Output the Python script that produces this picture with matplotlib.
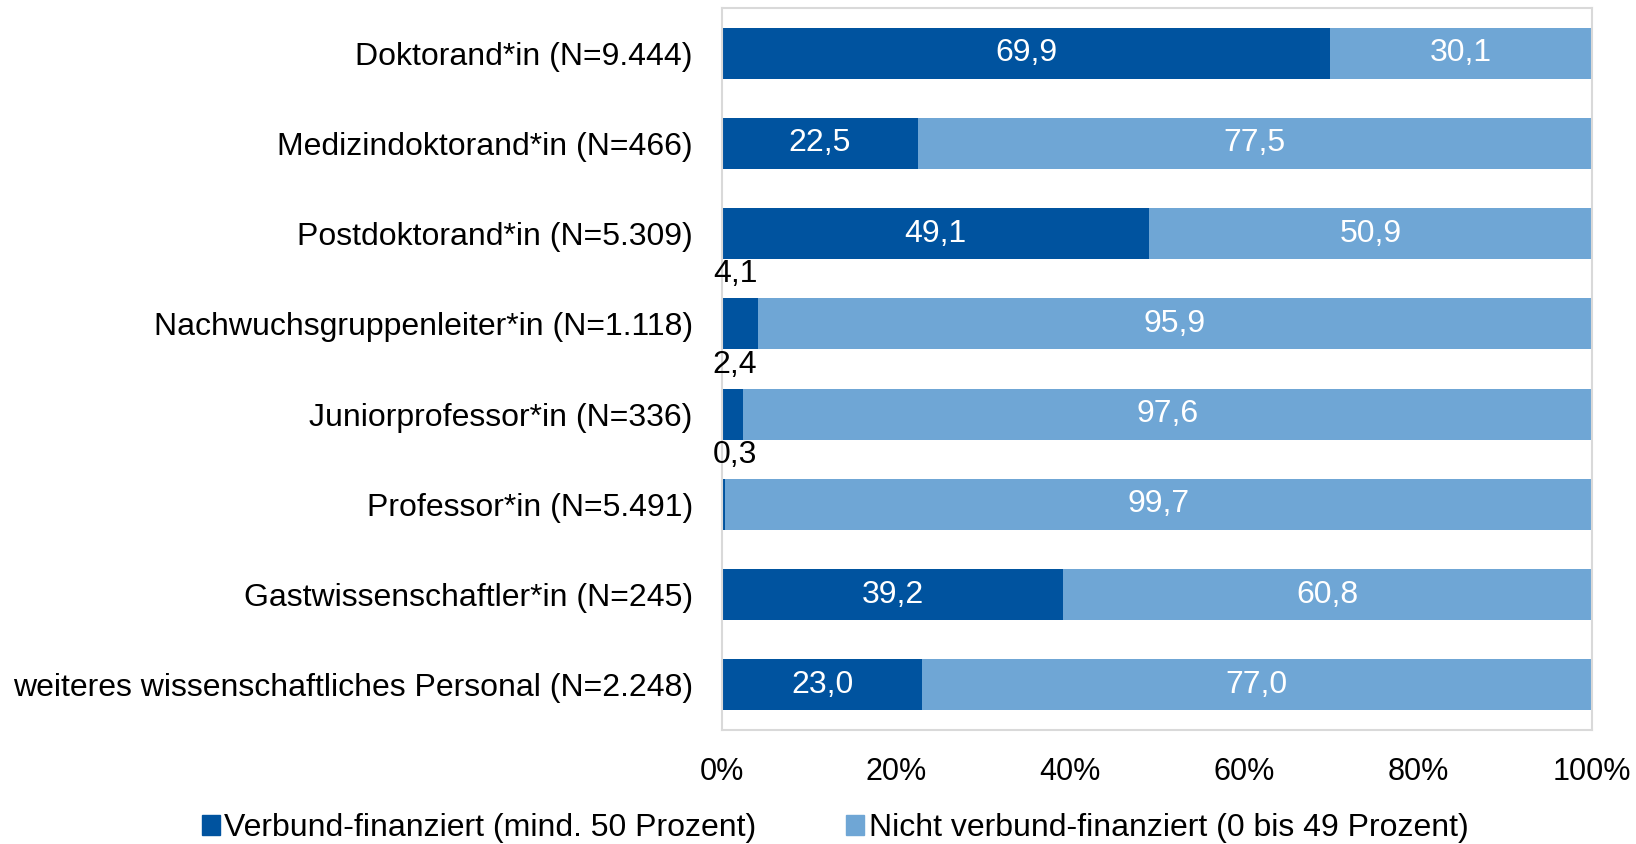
import numpy as np
import matplotlib
matplotlib.use("Agg")
from matplotlib import pyplot as plt
from matplotlib.patches import Patch

categories = [
    "Doktorand*in (N=9.444)",
    "Medizindoktorand*in (N=466)",
    "Postdoktorand*in (N=5.309)",
    "Nachwuchsgruppenleiter*in (N=1.118)",
    "Juniorprofessor*in (N=336)",
    "Professor*in (N=5.491)",
    "Gastwissenschaftler*in (N=245)",
    "weiteres wissenschaftliches Personal (N=2.248)",
]
verbund = [69.9, 22.5, 49.1, 4.1, 2.4, 0.3, 39.2, 23.0]
nicht_verbund = [30.1, 77.5, 50.9, 95.9, 97.6, 99.7, 60.8, 77.0]
series_names = ["Verbund-finanziert (mind. 50 Prozent)",
                "Nicht verbund-finanziert (0 bis 49 Prozent)"]
x_ticks = [0, 20, 40, 60, 80, 100]

DARK = "#00539F"
LIGHT = "#6FA6D5"
FONT = ["Liberation Sans", "DejaVu Sans"]

fig = plt.figure(figsize=(16.36, 8.44), dpi=100)
ax = fig.add_axes([0.4413, 0.135, 0.973 - 0.4413, 0.9905 - 0.135])

y = np.arange(len(categories))
h = 0.565
ax.barh(y, verbund, height=h, color=DARK)
ax.barh(y, nicht_verbund, left=verbund, height=h, color=LIGHT)

# Werte-Beschriftung
for i, (a, b) in enumerate(zip(verbund, nicht_verbund)):
    sa = f"{a:.1f}".replace(".", ",")
    sb = f"{b:.1f}".replace(".", ",")
    if a >= 10:
        ax.text(a / 2, i, sa, ha="center", va="center", color="white",
                fontsize=23, family=FONT)
    else:
        # kleine Werte oberhalb des Balkens
        ax.text(1.5, i - 0.55, sa, ha="center", va="center", color="black",
                fontsize=23, family=FONT)
    ax.text(a + b / 2, i, sb, ha="center", va="center", color="white",
            fontsize=23, family=FONT)

ax.set_xlim(0, 100)
ax.set_ylim(len(categories) - 0.5, -0.5)
ax.set_yticks(y)
ax.set_yticklabels(categories, fontsize=23, family=FONT)
ax.set_xticks(x_ticks)
ax.set_xticklabels([f"{t}%" for t in x_ticks], fontsize=22, family=FONT)
ax.tick_params(axis="both", length=0)
ax.tick_params(axis="x", pad=19.5)
ax.tick_params(axis="y", pad=21)
for s in ax.spines.values():
    s.set_color("#D9D9D9")
    s.set_linewidth(1.5)

handles = [Patch(color=DARK), Patch(color=LIGHT)]
fig.legend(handles, series_names, loc="center", ncol=2,
           bbox_to_anchor=(0.5105, 0.0185), frameon=False,
           prop={"family": FONT, "size": 23},
           handlelength=0.55, handleheight=0.55, handletextpad=0.15,
           columnspacing=2.8, borderpad=0.1)

fig.savefig("out.png", dpi=100)
